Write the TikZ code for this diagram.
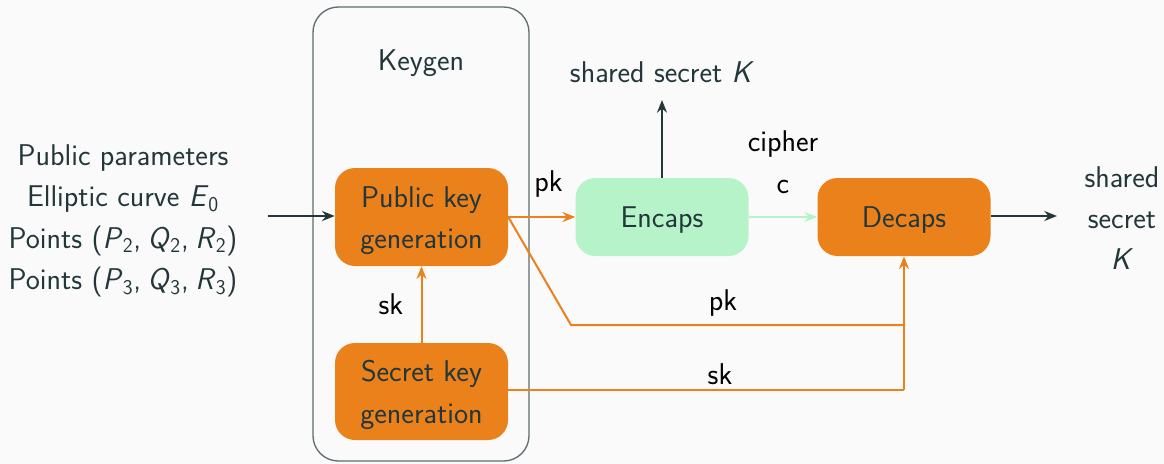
\documentclass[tikz,border=0pt]{standalone}
\usetikzlibrary{arrows.meta}
\definecolor{mDark}{HTML}{23373B}
\definecolor{mOrange}{HTML}{EB811B}
\definecolor{mGreen}{HTML}{B6F3C9}
\definecolor{mBg}{HTML}{FAFAFA}
\definecolor{mFrame}{HTML}{5E6E72}
\newcommand{\vv}[1]{\textit{#1}}
\newcommand{\sbs}[1]{\textsubscript{#1}}
\newcommand{\cs}{,\hspace{0.22em}}
\begin{document}
\begin{tikzpicture}[x=0.75pt,y=-0.75pt,
  font=\sffamily\fontsize{22.5}{31}\selectfont,
  txt/.style={text=mDark,align=center,inner sep=0pt},
  lbl/.style={text=black,inner sep=0pt},
  box/.style={rounded corners=15pt,minimum width=129.75pt,inner sep=0pt},
  boxtext/.style={label={[txt,yshift=-2.5pt]center:#1}},
  tip/.style={-{Stealth[length=9.5pt,width=7.5pt]}},
  darkline/.style={draw=mDark,line width=1.5pt,tip},
  orangeline/.style={draw=mOrange,line width=1.5pt},
]
\fill[mBg] (0,0) rectangle (1164,464);
\useasboundingbox (0,0) rectangle (1164,464);

% Keygen frame
\draw[mFrame,line width=1pt,rounded corners=19pt] (313,7) rectangle (529,461);
\node[txt] (keygen) at (421,63) {Keygen};

% boxes
\node[box,fill=mOrange,minimum height=73.5pt,boxtext={Public key\\generation}] (pub) at (421.5,217) {};
\node[box,fill=mOrange,minimum height=72.75pt,boxtext={Secret key\\generation}] (sec) at (421.5,391.5) {};
\node[box,fill=mGreen,minimum height=58.5pt,boxtext={Encaps}] (enc) at (662,217) {};
\node[box,fill=mOrange,minimum height=58.5pt,boxtext={Decaps}] (dec) at (904,217) {};

% inputs and outputs
\node[txt] (params) at (123,221) {Public parameters\\Elliptic curve \vv{E}\sbs{0}\\Points (\vv{P}\sbs{2}\cs\vv{Q}\sbs{2}\cs\vv{R}\sbs{2})\\Points (\vv{P}\sbs{3}\cs\vv{Q}\sbs{3}\cs\vv{R}\sbs{3})};
\node[txt] (ssup) at (662,72) {shared secret \vv{K}};
\node[txt] (ssright) at (1122,218) {shared\\secret\\\vv{K}};
\coordinate (inL) at (268,216);
\coordinate (upEnd) at (662,100);
\coordinate (outR) at (1057,216);

% connectors
\draw[darkline] (inL) -- (pub.west |- inL);
\draw[darkline] (enc.north) -- (upEnd);
\draw[darkline] (dec.east |- outR) -- (outR);
\draw[orangeline,tip] (sec.north) -- (pub.south) node[lbl,midway,left=13pt] (sklbl) {sk};
\draw[orangeline,tip] (pub.east |- enc.west) -- (enc.west) node[lbl,pos=0.6,above=14pt] (pklbl) {pk};
\draw[draw=mGreen,line width=1.5pt,tip] (enc.east) -- (dec.west);
\node[lbl] (cipher) at (783,144) {cipher};
\node[lbl] (clbl) at (783,187) {c};

\coordinate (pkBend) at (571,325);
\coordinate (pkJoin) at (904,325);
\coordinate (skJoin) at (904,390);
\draw[orangeline] (pub.east |- enc.west) -- (pkBend) -- (pkJoin);
\draw[orangeline] (sec.east |- skJoin) -- (skJoin);
\draw[orangeline,tip] (skJoin) -- (dec.south);
\node[lbl] (pk2) at (723,303) {pk};
\node[lbl] (sk2) at (720,374) {sk};
\end{tikzpicture}
\end{document}
